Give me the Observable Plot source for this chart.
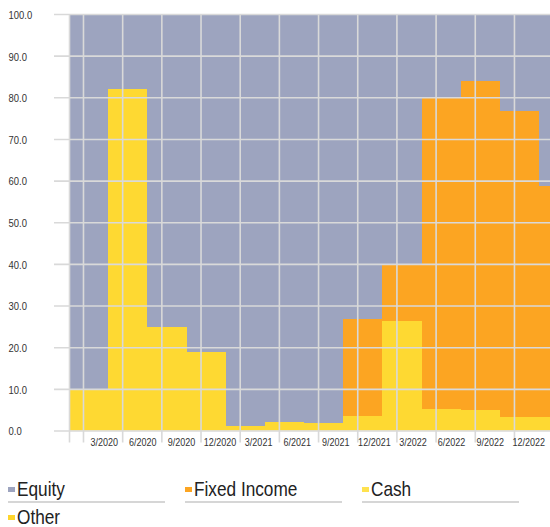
<!DOCTYPE html>
<html>
<head>
<meta charset="utf-8">
<script src="https://cdn.jsdelivr.net/npm/d3@7"></script>
<script src="https://cdn.jsdelivr.net/npm/@observablehq/plot@0.6"></script>
<style>
  html, body { margin: 0; padding: 0; background: #fff; }
  body { position: relative; width: 550px; height: 527px; overflow: hidden;
         font-family: "Liberation Sans", Arial, sans-serif; }
  #chart svg { display: block; }
  #legend { position: absolute; left: 8px; top: 479px; display: grid;
            grid-template-columns: repeat(3, 157px); column-gap: 20px; row-gap: 4px; }
  .item { position: relative; padding-left: 9px; font-size: 21px; line-height: 20px; color: #222;
          padding-bottom: 2px; border-bottom: 2px solid #d6d6d6; white-space: nowrap; }
  .item.last { border-bottom-color: transparent; }
  .item .t { display: inline-block; transform: scaleX(0.82); transform-origin: 0 50%; }
  .sw { position: absolute; left: 0; top: 8px; width: 7px; height: 5px; }
</style>
</head>
<body>
<div id="chart"></div>
<div id="legend"></div>
<script>
// ---- data ----
const periods = ["12/2019","3/2020","6/2020","9/2020","12/2020","3/2021","6/2021","9/2021","12/2021","3/2022","6/2022","9/2022","12/2022"];
const equity      = [90.0, 17.9, 75.2, 81.1, 98.9, 98.0, 98.2, 73.2, 60.1, 20.1, 16.0, 23.4, 41.2];
const fixedIncome = [0.0, 0.0, 0.0, 0.0, 0.0, 0.0, 0.0, 23.2, 13.7, 74.8, 79.1, 73.3, 55.6];
const cash        = [10.0, 82.1, 24.8, 18.9, 1.1, 2.0, 1.8, 3.6, 26.2, 5.1, 4.9, 3.3, 3.2];
const other       = [0, 0, 0, 0, 0, 0, 0, 0, 0, 0, 0, 0, 0];
const seriesNames = ["Equity", "Fixed Income", "Cash", "Other"];
const tickLabels  = ["3/2020","6/2020","9/2020","12/2020","3/2021","6/2021","9/2021","12/2021","3/2022","6/2022","9/2022","12/2022"];
const yTicks = [0, 10, 20, 30, 40, 50, 60, 70, 80, 90, 100];

// ---- presentation ----
const colors = {"Equity": "#9da4bf", "Fixed Income": "#fca522", "Cash": "#fed932", "Other": "#fed52c"};
const legendColors = {"Equity": "#9da4bf", "Fixed Income": "#fca522", "Cash": "#ffe24f", "Other": "#fed52c"};
const offset = -0.357;          // step position of each period relative to quarter gridlines
const xDomain = [offset, 11.92];
const labelPos = i => 0.53 + i * 0.985;   // label placement within each quarter

const values = {"Equity": equity, "Fixed Income": fixedIncome, "Cash": cash, "Other": other};
const stackOrder = ["Other", "Cash", "Fixed Income", "Equity"];
const rows = [];
for (const s of stackOrder) {
  periods.forEach((p, i) => rows.push({series: s, period: p, i, value: values[s][i]}));
}
const labelTicks = tickLabels.map((d, i) => labelPos(i));

const gridColor = "#d9d9d9";
const chart = Plot.plot({
  width: 550,
  height: 470,
  marginLeft: 69,
  marginRight: 0,
  marginTop: 14,
  marginBottom: 39.5,
  style: {fontFamily: '"Liberation Sans", Arial, sans-serif', fontSize: "10.5px", color: "#333", background: "#fff"},
  x: {type: "linear", domain: xDomain, axis: null},
  y: {domain: [0, 100], axis: null},
  marks: [
    Plot.rectY(rows, {
      x1: d => d.i + offset, x2: d => d.i + 1 + offset,
      y: "value", fill: d => colors[d.series],
      order: stackOrder, z: "series", clip: true,
      shapeRendering: "crispEdges"
    }),
    Plot.gridY({ticks: yTicks, stroke: gridColor, strokeOpacity: 1, strokeWidth: 1.6, insetLeft: -15}),
    Plot.gridX({ticks: [xDomain[0], ...d3.range(0, 12)], stroke: gridColor, strokeOpacity: 1, strokeWidth: 1.6, insetBottom: -12}),
    Plot.axisY({ticks: yTicks, label: null, tickSize: 0, tickPadding: 0, textAnchor: "start", dx: -61, dy: 1,
                tickFormat: d3.format(".1f"), fill: "#333", fontSize: 10.5}),
    Plot.axisX({ticks: labelTicks, label: null, tickSize: 0, tickPadding: 0, dy: 8,
                tickFormat: d => tickLabels[labelTicks.indexOf(d)], fill: "#333", fontSize: 10})
  ]
});
document.getElementById("chart").append(chart);

// condense tick labels (the reference uses a condensed face)
chart.querySelectorAll("text").forEach(t => {
  const len = t.getComputedTextLength();
  if (len > 0) {
    t.setAttribute("textLength", (len * 0.9).toFixed(2));
    t.setAttribute("lengthAdjust", "spacingAndGlyphs");
  }
});

// ---- legend ----
const legend = document.getElementById("legend");
seriesNames.forEach((s, k) => {
  const item = document.createElement("div");
  item.className = "item" + (k === 3 ? " last" : "");
  const sw = document.createElement("span");
  sw.className = "sw";
  sw.style.background = legendColors[s];
  const t = document.createElement("span");
  t.className = "t";
  t.textContent = s;
  item.append(sw, t);
  legend.append(item);
});
</script>
</body>
</html>
